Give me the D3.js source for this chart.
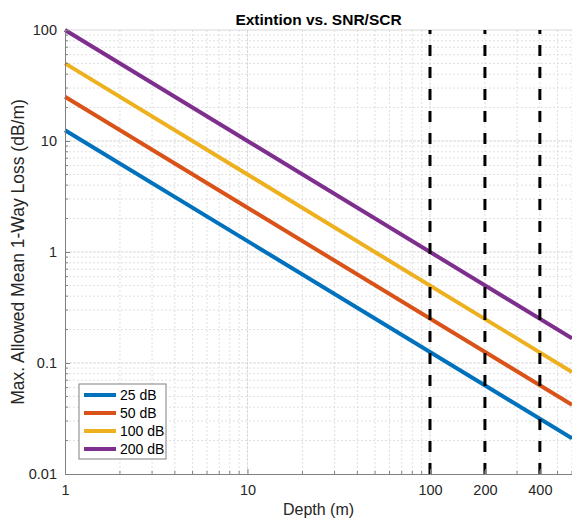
<!DOCTYPE html>
<html>
<head>
<meta charset="utf-8">
<script src="https://cdn.jsdelivr.net/npm/d3@7"></script>
<style>
  body { margin: 0; background: #fff; }
  svg { font-family: "Liberation Sans", Arial, sans-serif; }
</style>
</head>
<body>
<svg id="canvas" width="572" height="519"></svg>
<script>
// Data
let seriesNames = ["25 dB", "50 dB", "100 dB", "200 dB"];
let seriesColors = ["#0072BD", "#D95319", "#EDB120", "#7E2F8E"];
let depthEnds = [1, 600];
let lossAtStart = [12.5, 25, 50, 100];
let lossAtEnd = [0.021, 0.042, 0.083, 0.167];
let markerDepths = [100, 200, 400];
let xTickValues = [1, 10, 100, 200, 400];
let yTickValues = [100, 10, 1, 0.1, 0.01];
let yTickLabels = ["100", "10", "1", "0.1", "0.01"];

let width = 572;
let height = 519;
let plotLeft = 65, plotRight = 572, plotTop = 30, plotBottom = 474;

let canvas = d3.select("#canvas");

let xScale = d3.scaleLog().domain([1, 600]).range([plotLeft, plotRight]);
let yScale = d3.scaleLog().domain([0.01, 100]).range([plotBottom, plotTop]);

// grid lines
let xMinor = [];
[1, 10, 100].forEach((d) => {
  for (let i = 2; i <= 9; i++) if (d * i <= 600) xMinor.push(d * i);
});
let yMinor = [];
[0.01, 0.1, 1, 10].forEach((d) => {
  for (let i = 2; i <= 9; i++) yMinor.push(d * i);
});

let grid = canvas.append("g");
grid.selectAll(".xminor").data(xMinor).enter().append("line")
  .attr("x1", (d) => xScale(d)).attr("x2", (d) => xScale(d))
  .attr("y1", plotTop).attr("y2", plotBottom)
  .attr("stroke", "#e0e0e0").attr("stroke-width", 1)
  .attr("stroke-dasharray", "2,2");
grid.selectAll(".yminor").data(yMinor).enter().append("line")
  .attr("y1", (d) => yScale(d)).attr("y2", (d) => yScale(d))
  .attr("x1", plotLeft).attr("x2", plotRight)
  .attr("stroke", "#e0e0e0").attr("stroke-width", 1)
  .attr("stroke-dasharray", "2,2");
grid.selectAll(".xmajor").data([10, 100]).enter().append("line")
  .attr("x1", (d) => xScale(d)).attr("x2", (d) => xScale(d))
  .attr("y1", plotTop).attr("y2", plotBottom)
  .attr("stroke", "#d8d8d8").attr("stroke-width", 1)
  .attr("stroke-dasharray", "3,1");
grid.selectAll(".ymajor").data([10, 1, 0.1]).enter().append("line")
  .attr("y1", (d) => yScale(d)).attr("y2", (d) => yScale(d))
  .attr("x1", plotLeft).attr("x2", plotRight)
  .attr("stroke", "#d8d8d8").attr("stroke-width", 1)
  .attr("stroke-dasharray", "3,1");

// top border (faint)
canvas.append("line")
  .attr("x1", plotLeft).attr("x2", plotRight).attr("y1", plotTop).attr("y2", plotTop)
  .attr("stroke", "#d8d8d8");

// series lines
let line = d3.line().x((d) => xScale(d[0])).y((d) => yScale(d[1]));
seriesNames.forEach((name, i) => {
  let pts = [[depthEnds[0], lossAtStart[i]], [depthEnds[1], lossAtEnd[i]]];
  canvas.append("path")
    .attr("d", line(pts))
    .attr("fill", "none")
    .attr("stroke", seriesColors[i])
    .attr("stroke-width", 4);
});

// dashed depth markers
canvas.selectAll(".marker").data(markerDepths).enter().append("line")
  .attr("x1", (d) => xScale(d)).attr("x2", (d) => xScale(d))
  .attr("y1", plotBottom).attr("y2", plotTop)
  .attr("stroke", "#000").attr("stroke-width", 3)
  .attr("stroke-dasharray", "11,11");

// axes
let xAxis = d3.axisBottom(xScale)
  .tickValues(xTickValues)
  .tickFormat(d3.format("d"))
  .tickSizeInner(-5).tickSizeOuter(0).tickPadding(14);
let gx = canvas.append("g").attr("transform", `translate(0,${plotBottom})`).call(xAxis);

let yAxis = d3.axisLeft(yScale)
  .tickValues(yTickValues)
  .tickFormat((d, i) => yTickLabels[i])
  .tickSizeInner(-5).tickSizeOuter(0).tickPadding(8);
let gy = canvas.append("g").attr("transform", `translate(${plotLeft},0)`).call(yAxis);

// minor ticks
gx.selectAll(".minor").data(xMinor).enter().append("line")
  .attr("x1", (d) => xScale(d)).attr("x2", (d) => xScale(d))
  .attr("y1", 0).attr("y2", -3).attr("stroke", "#808080");
gy.selectAll(".minor").data(yMinor).enter().append("line")
  .attr("y1", (d) => yScale(d)).attr("y2", (d) => yScale(d))
  .attr("x1", 0).attr("x2", 3).attr("stroke", "#808080");

[gx, gy].forEach((g) => {
  g.select(".domain").attr("stroke", "#808080");
  g.selectAll(".tick line").attr("stroke", "#808080");
  g.selectAll(".tick text")
    .attr("fill", "#262626")
    .style("font-size", "14.5px")
    .style("font-family", "Liberation Sans, Arial, sans-serif");
});
gx.selectAll(".tick text").attr("dy", "0.5em");

// title and labels
canvas.append("text")
  .attr("x", (plotLeft + plotRight) / 2).attr("y", 25)
  .attr("text-anchor", "middle")
  .style("font-size", "15.5px").style("font-weight", "bold")
  .attr("fill", "#000")
  .text("Extintion vs. SNR/SCR");

canvas.append("text")
  .attr("x", (plotLeft + plotRight) / 2).attr("y", 515)
  .attr("text-anchor", "middle")
  .style("font-size", "16px").attr("fill", "#262626")
  .text("Depth (m)");

canvas.append("text")
  .attr("transform", `translate(24,${(plotTop + plotBottom) / 2}) rotate(-90)`)
  .attr("text-anchor", "middle")
  .style("font-size", "17.5px").attr("fill", "#262626")
  .text("Max. Allowed Mean 1-Way Loss (dB/m)");

// legend
let legend = canvas.append("g").attr("transform", "translate(79,384)");
legend.append("rect")
  .attr("width", 87).attr("height", 75)
  .attr("fill", "#fff").attr("stroke", "#808080").attr("stroke-width", 1);
seriesNames.forEach((name, i) => {
  let y = 11 + i * 18;
  legend.append("line")
    .attr("x1", 5).attr("x2", 37).attr("y1", y).attr("y2", y)
    .attr("stroke", seriesColors[i]).attr("stroke-width", 4);
  legend.append("text")
    .attr("x", 41).attr("y", y + 5)
    .style("font-size", "14px").attr("fill", "#000")
    .text(name);
});
</script>
</body>
</html>
